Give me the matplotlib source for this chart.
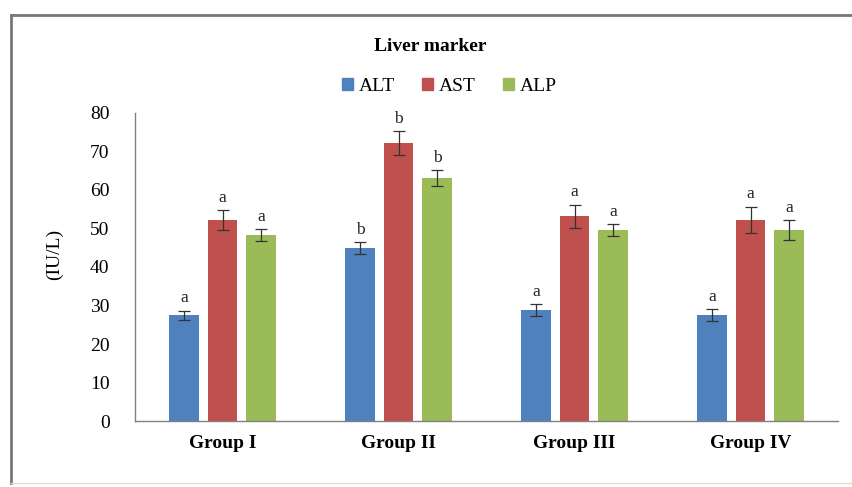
import matplotlib
matplotlib.use("Agg")
import matplotlib.pyplot as plt
from matplotlib.patches import Rectangle
from matplotlib.lines import Line2D
import numpy as np

plt.rcParams['font.family'] = ['Liberation Serif', 'DejaVu Serif']

groups = ["Group I", "Group II", "Group III", "Group IV"]
series = ["ALT", "AST", "ALP"]
alt = [27.5, 44.9, 28.8, 27.5]
ast = [52.2, 72.2, 53.2, 52.2]
alp = [48.3, 63.1, 49.6, 49.6]
alt_err = [1.2, 1.5, 1.5, 1.5]
ast_err = [2.5, 3.0, 3.0, 3.5]
alp_err = [1.5, 2.0, 1.5, 2.5]
alt_sig = ["a", "b", "a", "a"]
ast_sig = ["a", "b", "a", "a"]
alp_sig = ["a", "b", "a", "a"]
y_ticks = [0, 10, 20, 30, 40, 50, 60, 70, 80]

colors = ["#4F81BD", "#C0504D", "#9BBB59"]

fig = plt.figure(figsize=(8.53, 4.87), dpi=100)
ax = fig.add_axes([0.1577, 0.1355, 0.8253, 0.6325])

x = np.arange(len(groups))
width = 0.17
offsets = [-0.219, 0.0, 0.219]
vals = [alt, ast, alp]
errs = [alt_err, ast_err, alp_err]
sigs = [alt_sig, ast_sig, alp_sig]

for i in range(3):
    ax.bar(x + offsets[i], vals[i], width, color=colors[i], label=series[i], zorder=2)
    ax.errorbar(x + offsets[i], vals[i], yerr=errs[i], fmt='none', ecolor='#333333',
                elinewidth=0.9, capsize=4, capthick=0.9, zorder=3)
    for xi, v, e, s in zip(x + offsets[i], vals[i], errs[i], sigs[i]):
        ax.text(xi, v + e + 1.2, s, ha='center', va='bottom', fontsize=12.5, color='#222222')

ax.set_xlim(-0.5, len(groups) - 0.5)
ax.set_ylim(0, 80)
ax.set_yticks(y_ticks)
ax.set_yticklabels([str(t) for t in y_ticks], fontsize=14)
ax.set_xticks(x)
ax.set_xticklabels(groups, fontsize=14, fontweight='bold')
ax.tick_params(axis='both', length=0, pad=10)
ax.tick_params(axis='y', pad=18)
for side in ['top', 'right']:
    ax.spines[side].set_visible(False)
for side in ['left', 'bottom']:
    ax.spines[side].set_color('#808080')
    ax.spines[side].set_linewidth(1.0)

fig.text(0.064, 0.478, "(IU/L)", rotation=90, ha='center', va='center', fontsize=14)
fig.text(0.504, 0.905, "Liver marker", ha='center', va='center', fontsize=14, fontweight='bold')

handles = [Rectangle((0, 0), 1, 1, color=c) for c in colors]
fig.legend(handles, series, loc='center', bbox_to_anchor=(0.527, 0.822), ncol=3,
           frameon=False, fontsize=14, handlelength=0.55, handleheight=0.55,
           handletextpad=0.3, columnspacing=1.4)

# chart frame
fig.add_artist(Line2D([0.0129, 0.0129], [0.008, 0.969], color='#777777', lw=2.0))
fig.add_artist(Line2D([0.0129, 1.0], [0.969, 0.969], color='#777777', lw=2.0))
fig.add_artist(Line2D([0.0129, 1.0], [0.008, 0.008], color='#dddddd', lw=1.0))

fig.savefig("out.png", dpi=100)
